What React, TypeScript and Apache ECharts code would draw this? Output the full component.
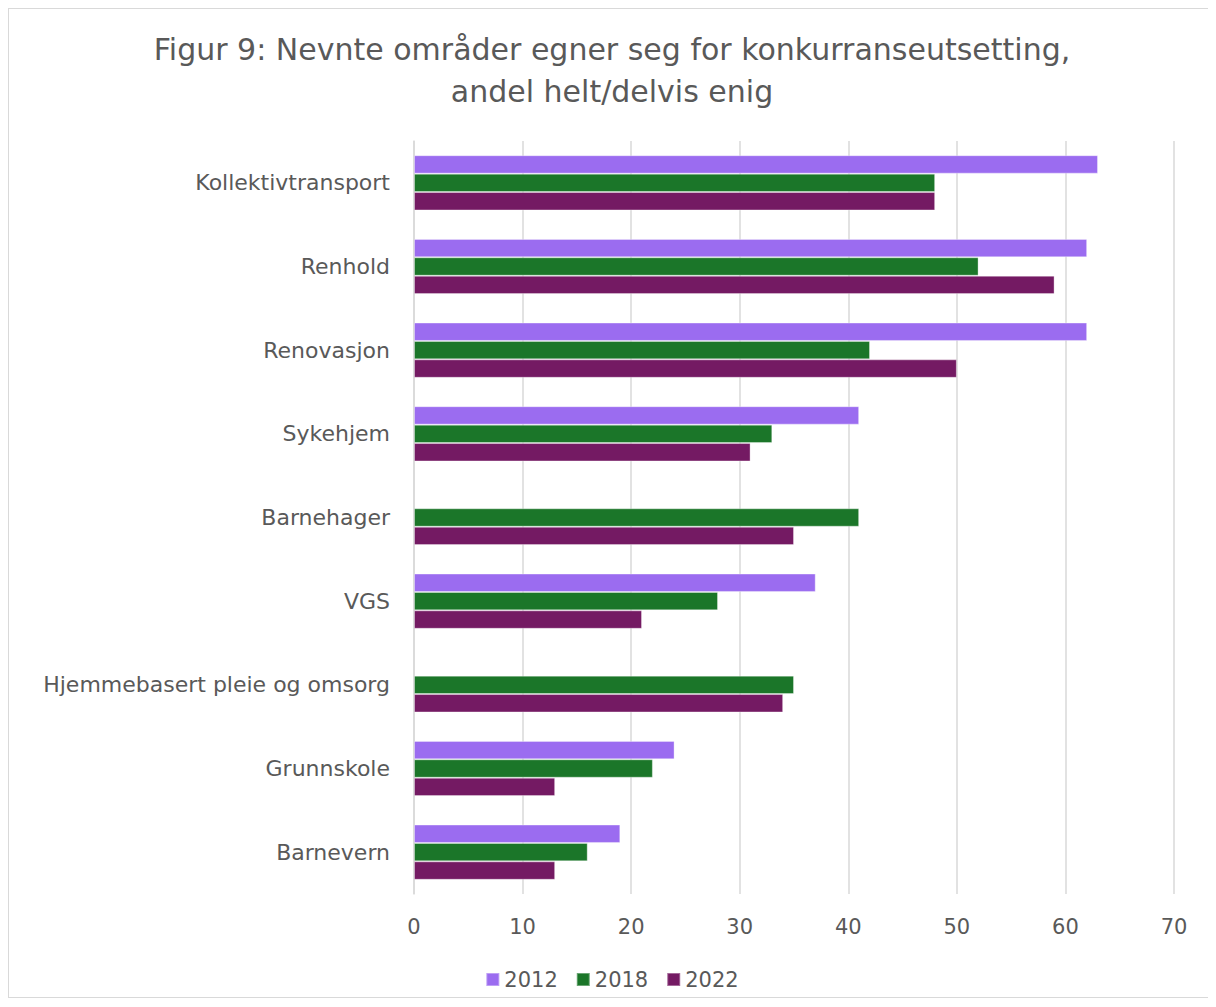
import React, { useEffect, useRef } from "react";
import * as echarts from "echarts";

const categories = [
  "Kollektivtransport",
  "Renhold",
  "Renovasjon",
  "Sykehjem",
  "Barnehager",
  "VGS",
  "Hjemmebasert pleie og omsorg",
  "Grunnskole",
  "Barnevern",
];
const v2012 = [63, 62, 62, 41, null, 37, null, 24, 19];
const v2018 = [48, 52, 42, 33, 41, 28, 35, 22, 16];
const v2022 = [48, 59, 50, 31, 35, 21, 34, 13, 13];
const seriesNames = ["2012", "2018", "2022"];
const colors = ["#9B6CF0", "#1B7629", "#741A63"];
const xTicks = { min: 0, max: 70, interval: 10 };

const FONT = "'DejaVu Sans', sans-serif";
const TXT = "#595959";

export default function App() {
  const ref = useRef<HTMLDivElement>(null);
  useEffect(() => {
    const chart = echarts.init(ref.current!, null, { renderer: "svg" });
    const data = [v2012, v2018, v2022];
    chart.setOption({
      animation: false,
      textStyle: { fontFamily: FONT },
      title: {
        text: "Figur 9: Nevnte områder egner seg for konkurranseutsetting,\nandel helt/delvis enig",
        left: "center",
        top: 14,
        textStyle: {
          fontFamily: FONT,
          fontSize: 30,
          fontWeight: "normal",
          color: TXT,
          lineHeight: 42,
        },
      },
      legend: {
        bottom: 2,
        left: "center",
        itemWidth: 13,
        itemHeight: 13,
        itemGap: 18,
        icon: "rect",
        textStyle: { fontFamily: FONT, fontSize: 21, color: TXT },
        data: seriesNames,
      },
      grid: { left: 405, right: 41, top: 132, bottom: 103, containLabel: false },
      xAxis: {
        type: "value",
        min: xTicks.min,
        max: xTicks.max,
        interval: xTicks.interval,
        axisLine: { show: false },
        axisTick: { show: false },
        axisLabel: { fontFamily: FONT, fontSize: 21, color: TXT, margin: 22 },
        splitLine: { lineStyle: { color: "#D9D9D9", width: 1.5 } },
      },
      yAxis: {
        type: "category",
        inverse: true,
        data: categories,
        axisLine: { show: true, lineStyle: { color: "#D9D9D9", width: 1.5 } },
        axisTick: { show: false },
        axisLabel: { fontFamily: FONT, fontSize: 22, color: TXT, margin: 24 },
      },
      series: seriesNames.map((name, i) => ({
        name,
        type: "bar",
        data: data[i],
        barGap: "0%",
        barCategoryGap: "34%",
        itemStyle: {
          color: colors[i],
          borderColor: "rgba(255,255,255,0.35)",
          borderWidth: 1,
        },
      })),
    });
    return () => chart.dispose();
  }, []);
  return (
    <div
      style={{
        width: 1208,
        height: 990,
        boxSizing: "border-box",
        border: "1px solid #D9D9D9",
        background: "#fff",
      }}
    >
      <div ref={ref} style={{ width: 1206, height: 988 }} />
    </div>
  );
}
